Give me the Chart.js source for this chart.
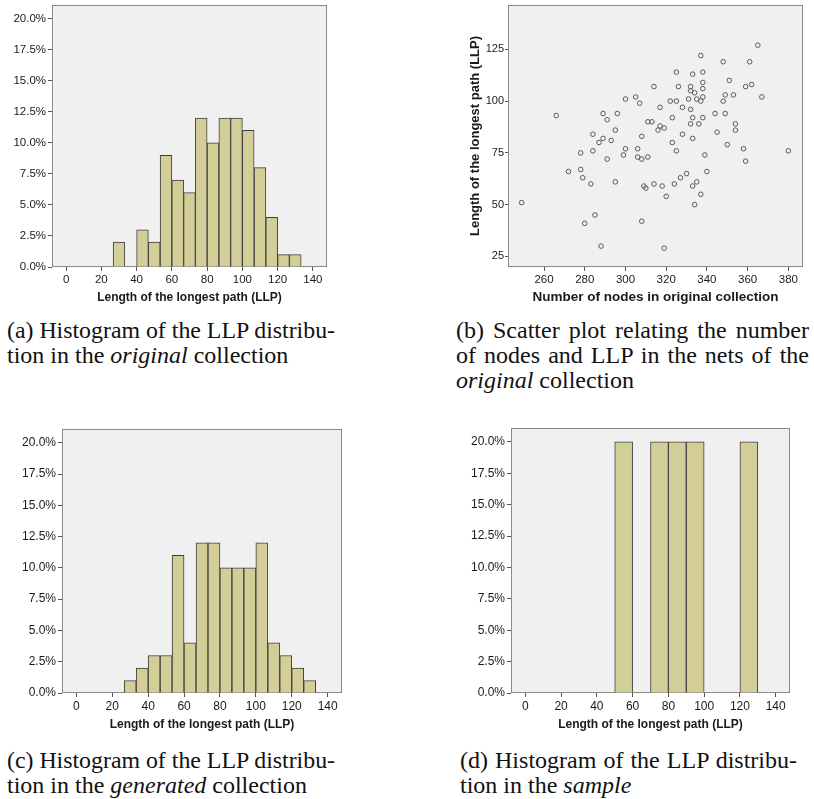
<!DOCTYPE html>
<html>
<head>
<meta charset="utf-8">
<script src="https://cdn.jsdelivr.net/npm/chart.js@4.4.1/dist/chart.umd.min.js"></script>
<style>
    body { margin: 0; background: #fff; width: 814px; height: 799px; position: relative; overflow: hidden; }
    canvas { position: absolute; }
    .cap { position: absolute; font-family: "Liberation Serif", serif; font-size: 24px; line-height: 25px;
           color: #111; white-space: nowrap; }
    .cap div { transform-origin: left top; }
    .cap .j { text-align: justify; text-align-last: justify; }
</style>
</head>
<body>
<canvas id="chart-a" style="left:0px; top:0px;" width="340" height="315"></canvas>
<canvas id="chart-b" style="left:440px; top:0px;" width="374" height="315"></canvas>
<canvas id="chart-c" style="left:0px; top:420px;" width="360" height="320"></canvas>
<canvas id="chart-d" style="left:450px; top:420px;" width="364" height="320"></canvas>

<div class="cap" id="cap-a" style="left:7px; top:318px;">
    <div class="j" data-w="328">(a) Histogram of the LLP distribu-</div>
    <div>tion in the <i>original</i> collection</div>
</div>
<div class="cap" id="cap-b" style="left:456px; top:318px;">
    <div class="j" data-w="353">(b) Scatter plot relating the number</div>
    <div class="j" data-w="353">of nodes and LLP in the nets of the</div>
    <div><i>original</i> collection</div>
</div>
<div class="cap" id="cap-c" style="left:7px; top:748px;">
    <div class="j" data-w="328">(c) Histogram of the LLP distribu-</div>
    <div>tion in the <i>generated</i> collection</div>
</div>
<div class="cap" id="cap-d" style="left:460px; top:748px;">
    <div class="j" data-w="337">(d) Histogram of the LLP distribu-</div>
    <div>tion in the <i>sample</i></div>
</div>

<script>
/* ---------- data ---------- */
// LLP bins of the collections (lower edge of each bin, width 20/3)
const llpBinLow = [26.67, 33.33, 40, 46.67, 53.33, 60, 66.67, 73.33, 80, 86.67, 93.33, 100, 106.67, 113.33, 120, 126.67];
const llpBinWidth = 20 / 3;
const originalPct = [2, 0, 3, 2, 9, 7, 6, 12, 10, 12, 12, 11, 8, 4, 1, 1];
const generatedPct = [1, 2, 3, 3, 11, 4, 12, 12, 10, 10, 10, 12, 4, 3, 2, 1];

// sample: bins of width 10
const sampleBinLow = [50, 70, 80, 90, 120];
const sampleBinWidth = 10;
const samplePct = [20, 20, 20, 20, 20];

// scatter: nodes vs LLP, original collection
const nodeCounts = [249, 266, 272, 278, 278, 279, 280, 283, 284, 284, 285, 287, 288, 289, 289, 291, 291, 293, 295, 295,
    296, 299, 300, 300, 305, 306, 306, 307, 308, 308, 308, 309, 310, 311, 311, 313, 314, 314, 316, 317,
    317, 318, 319, 319, 320, 322, 323, 323, 324, 325, 325, 325, 326, 327, 328, 328, 330, 331, 332, 332,
    332, 332, 333, 333, 333, 333, 334, 334, 335, 335, 336, 337, 337, 337, 338, 338, 338, 338, 338, 339,
    340, 344, 345, 348, 348, 349, 349, 350, 351, 353, 354, 354, 358, 359, 359, 361, 362, 365, 367, 380];
const llpValues = [51, 93, 66, 75, 67, 63, 41, 60, 76, 84, 45, 80, 30, 82, 94, 91, 72, 81, 86, 61,
    94, 74, 77, 101, 102, 77, 73, 99, 83, 72, 42, 59, 58, 73, 90, 90, 107, 60, 86, 88,
    97, 59, 87, 29, 54, 100, 92, 80, 60, 100, 114, 76, 107, 63, 97, 84, 65, 101, 107, 105,
    96, 89, 113, 92, 82, 59, 104, 50, 101, 61, 89, 122, 100, 55, 114, 109, 106, 102, 92, 74,
    66, 94, 85, 119, 100, 103, 94, 79, 110, 103, 89, 86, 77, 107, 71, 119, 108, 127, 102, 76];

// axis ticks
const llpTicks = [0, 20, 40, 60, 80, 100, 120, 140];
const pctTicks = [0, 2.5, 5, 7.5, 10, 12.5, 15, 17.5, 20];
const nodeTicks = [260, 280, 300, 320, 340, 360, 380];
const llpScatterTicks = [25, 50, 75, 100, 125];

/* ---------- style ---------- */
const PLOT_BG = '#f0f0f0';
const FRAME = '#8a8a8a';
const BAR_FILL = '#d3ce97';
const BAR_EDGE = '#3f3f3f';
const TEXT = '#1a1a1a';
const SANS = '"Liberation Sans", Arial, sans-serif';

// grey plot background + frame, like SPSS output
const plotFrame = {
    id: 'plotFrame',
    beforeDraw(chart) {
        const { ctx, chartArea: a } = chart;
        ctx.save();
        ctx.fillStyle = PLOT_BG;
        ctx.fillRect(a.left, a.top, a.right - a.left, a.bottom - a.top);
        ctx.restore();
    },
    beforeDatasetsDraw(chart) {
        const { ctx, chartArea: a } = chart;
        ctx.save();
        ctx.strokeStyle = FRAME;
        ctx.lineWidth = 1;
        ctx.strokeRect(a.left + 0.5, a.top + 0.5, a.right - a.left - 1, a.bottom - a.top - 1);
        ctx.restore();
    }
};

const fixTicks = values => scale => { scale.ticks = values.map(v => ({ value: v })); };

const Figure = {
    init() {
        Chart.defaults.font.family = SANS;
        Chart.defaults.color = TEXT;
        Chart.defaults.animation = false;

        this.renderHistogram('chart-a', llpBinLow, llpBinWidth, originalPct,
            { top: 5, right: 13, yWidth: 52, xHeight: 48, titlePad: 10, tickFont: 11.5 });
        this.renderScatter('chart-b');
        this.renderHistogram('chart-c', llpBinLow, llpBinWidth, generatedPct,
            { top: 9, right: 18, yWidth: 62, xHeight: 47, titlePad: 8, tickFont: 12 });
        this.renderHistogram('chart-d', sampleBinLow, sampleBinWidth, samplePct,
            { top: 8, right: 24, yWidth: 61, xHeight: 47, titlePad: 8, tickFont: 12 });
        this.fitCaptions();
    },

    renderHistogram(id, binLow, binWidth, pct, box) {
        const ctx = document.getElementById(id).getContext('2d');
        // one bar per non-empty bin, placed at the bin centre
        const points = binLow
            .map((lo, i) => ({ x: lo + binWidth / 2, y: pct[i] }))
            .filter(p => p.y > 0);

        new Chart(ctx, {
            type: 'bar',
            data: {
                datasets: [{
                    data: points,
                    backgroundColor: BAR_FILL,
                    borderColor: BAR_EDGE,
                    borderWidth: 1,
                    borderSkipped: 'bottom',
                    barPercentage: 1,
                    categoryPercentage: 1
                }]
            },
            options: {
                responsive: false,
                layout: { padding: { top: box.top, right: box.right, left: 0, bottom: 0 } },
                plugins: { legend: { display: false }, tooltip: { enabled: false } },
                scales: {
                    x: {
                        type: 'linear',
                        offset: false,
                        min: -8,
                        max: 148,
                        afterBuildTicks: fixTicks(llpTicks),
                        afterFit(s) { s.height = box.xHeight; s.paddingLeft = 0; s.paddingRight = 0; },
                        grid: { drawOnChartArea: false, tickLength: 4, color: '#555', offset: false },
                        border: { display: false },
                        ticks: { font: { size: box.tickFont }, padding: 2, maxRotation: 0 },
                        title: {
                            display: true,
                            text: 'Length of the longest path (LLP)',
                            font: { size: 12, weight: 'bold' },
                            padding: { top: 0, bottom: box.titlePad }
                        }
                    },
                    y: {
                        min: 0,
                        max: 21.1,
                        afterBuildTicks: fixTicks(pctTicks),
                        afterFit(s) { s.width = box.yWidth; s.paddingTop = 0; s.paddingBottom = 0; },
                        grid: { drawOnChartArea: false, tickLength: 4, color: '#555' },
                        border: { display: false },
                        ticks: {
                            font: { size: box.tickFont },
                            padding: 2,
                            callback: v => v.toFixed(1) + '%'
                        }
                    }
                }
            },
            plugins: [plotFrame]
        });
    },

    renderScatter(id) {
        const ctx = document.getElementById(id).getContext('2d');

        new Chart(ctx, {
            type: 'scatter',
            data: {
                datasets: [{
                    data: nodeCounts.map((n, i) => ({ x: n, y: llpValues[i] })),
                    pointRadius: 2.3,
                    pointBorderWidth: 1,
                    pointBorderColor: '#5a5a5a',
                    pointBackgroundColor: 'rgba(0,0,0,0)'
                }]
            },
            options: {
                responsive: false,
                layout: { padding: { top: 1, right: 11, left: 0, bottom: 0 } },
                plugins: { legend: { display: false }, tooltip: { enabled: false } },
                scales: {
                    x: {
                        type: 'linear',
                        min: 242.3,
                        max: 387.2,
                        afterBuildTicks: fixTicks(nodeTicks),
                        afterFit(s) { s.height = 48; s.paddingLeft = 0; s.paddingRight = 0; },
                        grid: { drawOnChartArea: false, tickLength: 4, color: '#555' },
                        border: { display: false },
                        ticks: { font: { size: 11.5 }, padding: 2, maxRotation: 0 },
                        title: {
                            display: true,
                            text: 'Number of nodes in original collection',
                            font: { size: 13.5, weight: 'bold' },
                            padding: { top: 0, bottom: 10 }
                        }
                    },
                    y: {
                        min: 19.9,
                        max: 146.4,
                        afterBuildTicks: fixTicks(llpScatterTicks),
                        afterFit(s) { s.width = 68; s.paddingTop = 0; s.paddingBottom = 0; },
                        grid: { drawOnChartArea: false, tickLength: 3, color: '#555' },
                        border: { display: false },
                        ticks: { font: { size: 11 }, padding: 1 },
                        title: {
                            display: true,
                            text: 'Length of the longest path (LLP)',
                            font: { size: 13, weight: 'bold' },
                            padding: { top: 28, bottom: 0 }
                        }
                    }
                }
            },
            plugins: [plotFrame]
        });
    },

    // justified caption lines: stretch to the column, or squeeze if too long
    fitCaptions() {
        document.querySelectorAll('.cap .j').forEach(line => {
            const target = Number(line.dataset.w);
            line.style.display = 'inline-block';
            const natural = line.getBoundingClientRect().width;
            line.style.display = 'block';
            if (natural > target) {
                line.style.width = natural + 'px';
                line.style.transform = `scaleX(${target / natural})`;
            } else {
                line.style.width = target + 'px';
            }
        });
    }
};

Figure.init();
</script>
</body>
</html>
